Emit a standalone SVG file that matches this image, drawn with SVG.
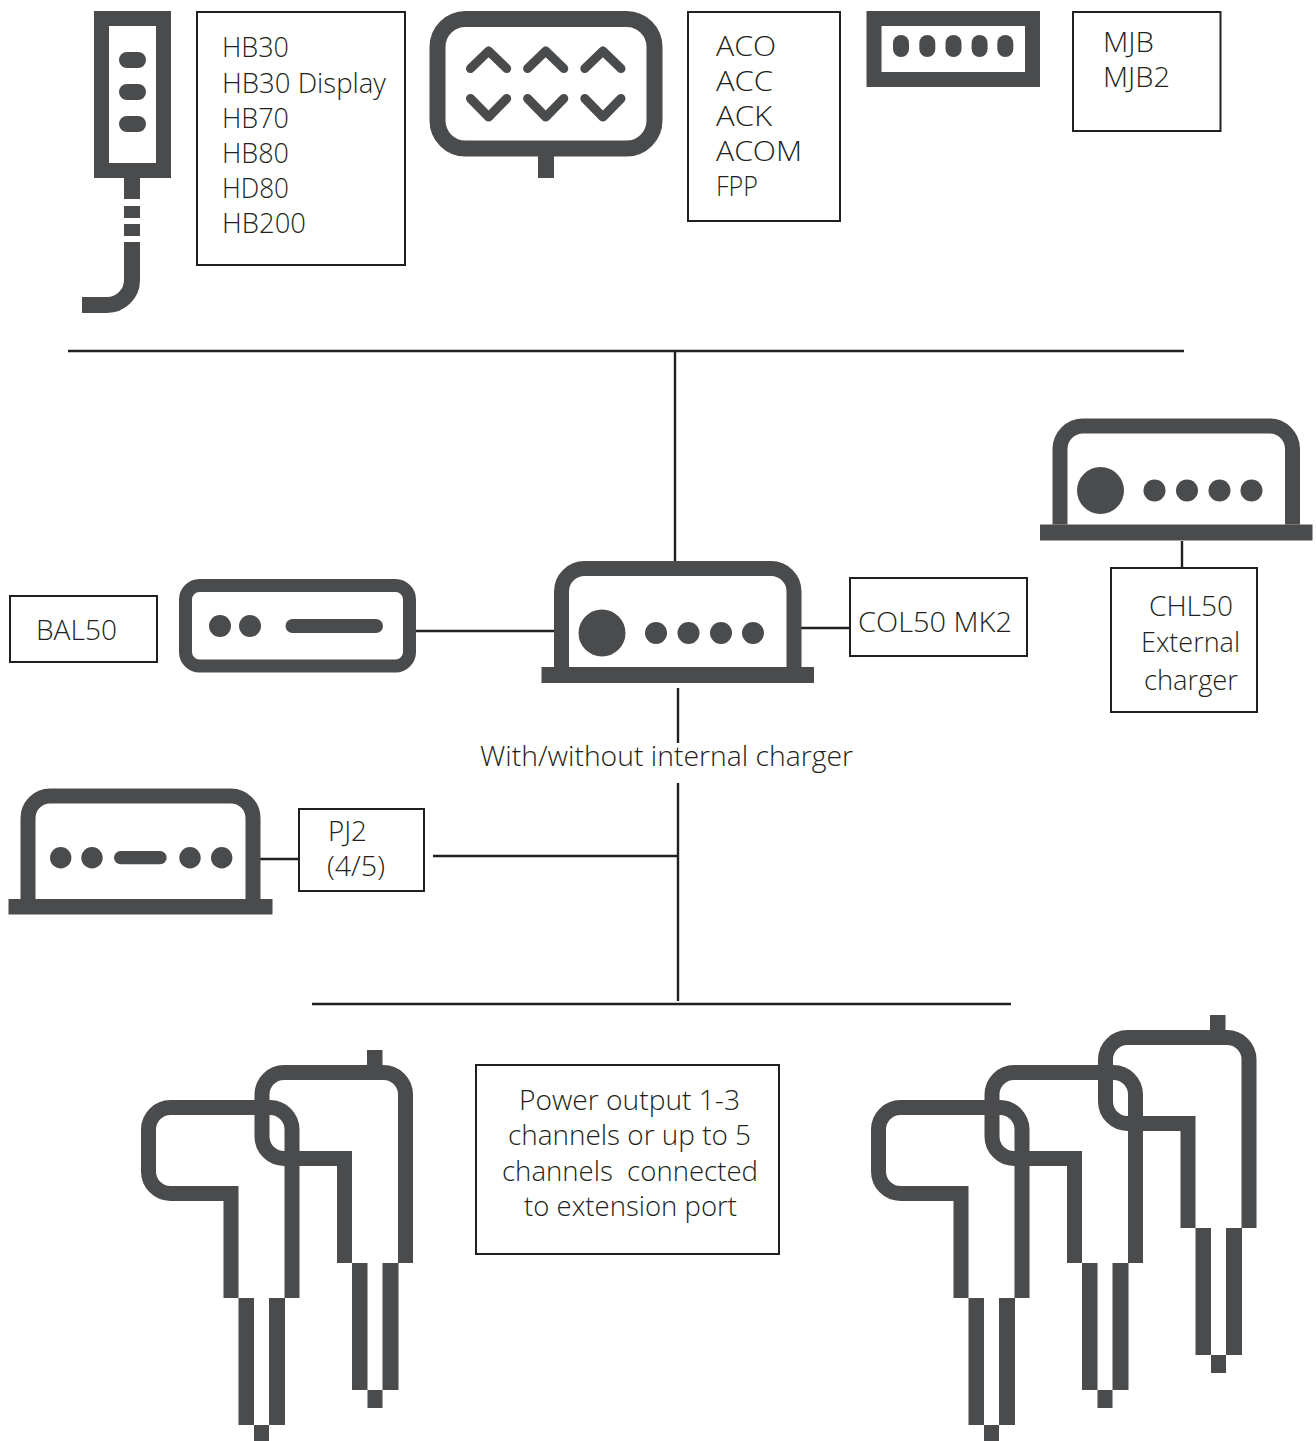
<svg xmlns="http://www.w3.org/2000/svg" width="1316" height="1441" viewBox="0 0 1316 1441">
<style>
text{font-family:"Open Sans","Noto Sans","Liberation Sans",sans-serif;font-weight:300;font-size:27.500px;fill:#231f20;white-space:pre}
.m{text-anchor:middle}
.box{fill:none;stroke:#231f20;stroke-width:2}
.ln{fill:none;stroke:#231f20;stroke-width:2.400}
.d{fill:#4a4b4d}
.s{fill:none;stroke:#4a4b4d;stroke-width:15}
.c{fill:none;stroke:#4a4b4d;stroke-width:9;stroke-linecap:round;stroke-linejoin:round}
</style>
<defs>
<g id="bud">
<path class="s" d="M231 1298V1193.5H170.5A22 22 0 0 1 148.5 1171.5V1129.5A22 22 0 0 1 170.5 1107.5H270A22 22 0 0 1 292 1129.5V1298"/>
<rect class="d" x="238.5" y="1298" width="15.5" height="127"/>
<rect class="d" x="269" y="1298" width="16" height="127"/>
<rect class="d" x="254" y="1425" width="15" height="18"/>
</g>
<g id="ctrl">
<path class="s" d="M561.5 667V591.5A23 23 0 0 1 584.5 568.5H771A23 23 0 0 1 794 591.5V667"/>
<rect class="d" x="541.5" y="667" width="272.5" height="16"/>
<circle class="d" cx="602" cy="633" r="23.5"/>
<circle class="d" cx="656" cy="633" r="11"/>
<circle class="d" cx="688.5" cy="633" r="11"/>
<circle class="d" cx="721" cy="633" r="11"/>
<circle class="d" cx="753" cy="633" r="11"/>
</g>
</defs>
<g id="connectors">
<path class="ln" d="M68 351H1184M675 351V562M416 631H557M801 628H850M1182 541V568M678 688V743M678 783V1001M260 859H299M433 856H678M312 1004H1011"/>
</g>
<g id="handheld">
<rect x="101.500" y="18.500" width="62" height="152" fill="none" stroke="#4a4b4d" stroke-width="15"/>
<rect class="d" x="119" y="52" width="27" height="16" rx="8"/>
<rect class="d" x="119" y="84" width="27" height="16" rx="8"/>
<rect class="d" x="119" y="116" width="27" height="16" rx="8"/>
<rect class="d" x="124" y="178" width="16" height="21"/>
<rect class="d" x="124" y="206" width="16" height="12"/>
<rect class="d" x="124" y="224" width="16" height="12"/>
<path fill="none" stroke="#4a4b4d" stroke-width="16" d="M132 242V280A25 25 0 0 1 107 305H82"/>
</g>
<g id="handheld-label">
<rect class="box" x="197" y="12" width="208" height="253"/>
<text x="222" y="57" textLength="67" lengthAdjust="spacingAndGlyphs">HB30</text>
<text x="222" y="93" textLength="164" lengthAdjust="spacingAndGlyphs">HB30 Display</text>
<text x="222" y="128" textLength="67" lengthAdjust="spacingAndGlyphs">HB70</text>
<text x="222" y="163" textLength="67" lengthAdjust="spacingAndGlyphs">HB80</text>
<text x="222" y="198" textLength="67" lengthAdjust="spacingAndGlyphs">HD80</text>
<text x="222" y="233" textLength="84" lengthAdjust="spacingAndGlyphs">HB200</text>
</g>
<g id="panel">
<rect x="437.500" y="19" width="217" height="129.500" rx="28" fill="none" stroke="#4a4b4d" stroke-width="16"/>
<rect class="d" x="538" y="156" width="16" height="22"/>
<path class="c" d="M470.500 68.500L488.600 51L506.700 68.500M527.600 68.500L545.700 51L563.800 68.500M584.800 68.500L602.900 51L621 68.500M470.500 98.500L488.600 117L506.700 98.500M527.600 98.500L545.700 117L563.800 98.500M584.800 98.500L602.900 117L621 98.500"/>
</g>
<g id="panel-label">
<rect class="box" x="688" y="12" width="152" height="209"/>
<text x="716" y="56" textLength="60" lengthAdjust="spacingAndGlyphs">ACO</text>
<text x="716" y="91" textLength="57" lengthAdjust="spacingAndGlyphs">ACC</text>
<text x="716" y="126" textLength="56" lengthAdjust="spacingAndGlyphs">ACK</text>
<text x="716" y="161" textLength="86" lengthAdjust="spacingAndGlyphs">ACOM</text>
<text x="716" y="196" textLength="42" lengthAdjust="spacingAndGlyphs">FPP</text>
</g>
<g id="junction">
<rect x="874" y="18.500" width="158.500" height="61" fill="none" stroke="#4a4b4d" stroke-width="15"/>
<rect class="d" x="893" y="35" width="16" height="22" rx="8"/>
<rect class="d" x="919.300" y="35" width="16" height="22" rx="8"/>
<rect class="d" x="945.500" y="35" width="16" height="22" rx="8"/>
<rect class="d" x="971.600" y="35" width="16" height="22" rx="8"/>
<rect class="d" x="997.300" y="35" width="16" height="22" rx="8"/>
</g>
<g id="junction-label">
<rect class="box" x="1073" y="12" width="147.500" height="119"/>
<text x="1103" y="52" textLength="51" lengthAdjust="spacingAndGlyphs">MJB</text>
<text x="1103" y="87" textLength="67" lengthAdjust="spacingAndGlyphs">MJB2</text>
</g>
<g id="charger">
<use href="#ctrl" transform="translate(498.500 -142.500)"/>
<rect class="box" x="1111" y="568" width="146" height="144"/>
<text class="m" x="1191" y="616" textLength="84" lengthAdjust="spacingAndGlyphs">CHL50</text>
<text class="m" x="1190.500" y="652" textLength="99" lengthAdjust="spacingAndGlyphs">External</text>
<text class="m" x="1191" y="690" textLength="94" lengthAdjust="spacingAndGlyphs">charger</text>
</g>
<g id="bal">
<rect x="185.500" y="585.500" width="224" height="80.500" rx="14" fill="none" stroke="#4a4b4d" stroke-width="13"/>
<circle class="d" cx="220" cy="626" r="11"/>
<circle class="d" cx="250" cy="626" r="11"/>
<rect class="d" x="285.500" y="619" width="97.500" height="14" rx="7"/>
<rect class="box" x="10" y="596" width="147" height="66"/>
<text x="36" y="640" textLength="81" lengthAdjust="spacingAndGlyphs">BAL50</text>
</g>
<g id="controller">
<use href="#ctrl"/>
<text class="m" x="666.500" y="766" textLength="373" lengthAdjust="spacingAndGlyphs">With/without internal charger</text>
</g>
<g id="col50">
<rect class="box" x="850" y="578" width="177" height="78"/>
<text x="858" y="632" textLength="154" lengthAdjust="spacingAndGlyphs">COL50 MK2</text>
</g>
<g id="pj2">
<path class="s" d="M28 899V818A22 22 0 0 1 50 796H231A22 22 0 0 1 253 818V899"/>
<rect class="d" x="8.500" y="899" width="264" height="15.500"/>
<circle class="d" cx="60.700" cy="857.700" r="10.700"/>
<circle class="d" cx="92" cy="857.700" r="10.700"/>
<rect class="d" x="114" y="851" width="52.700" height="13.300" rx="6.600"/>
<circle class="d" cx="190" cy="857.700" r="10.700"/>
<circle class="d" cx="221.700" cy="857.700" r="10.700"/>
<rect class="box" x="299" y="809" width="125" height="82"/>
<text x="328" y="841" textLength="39" lengthAdjust="spacingAndGlyphs">PJ2</text>
<text x="327" y="876" textLength="58" lengthAdjust="spacingAndGlyphs">(4/5)</text>
</g>
<g id="outputs-3">
<use href="#bud"/>
<use href="#bud" transform="translate(113.500 -35)"/>
<rect class="d" x="367" y="1050" width="15.500" height="16"/>
</g>
<g id="power-label">
<rect class="box" x="476" y="1065" width="303" height="189"/>
<text class="m" x="629.500" y="1110" textLength="221" lengthAdjust="spacingAndGlyphs">Power output 1-3</text>
<text class="m" x="629.500" y="1145" textLength="243" lengthAdjust="spacingAndGlyphs">channels or up to 5</text>
<text class="m" x="630" y="1181" textLength="256" lengthAdjust="spacingAndGlyphs">channels  connected</text>
<text class="m" x="630.500" y="1216" textLength="213" lengthAdjust="spacingAndGlyphs">to extension port</text>
</g>
<g id="outputs-5">
<use href="#bud" transform="translate(730 0)"/>
<use href="#bud" transform="translate(843.500 -35)"/>
<use href="#bud" transform="translate(957 -70)"/>
<rect class="d" x="1210" y="1015" width="15.500" height="16"/>
</g>
</svg>
